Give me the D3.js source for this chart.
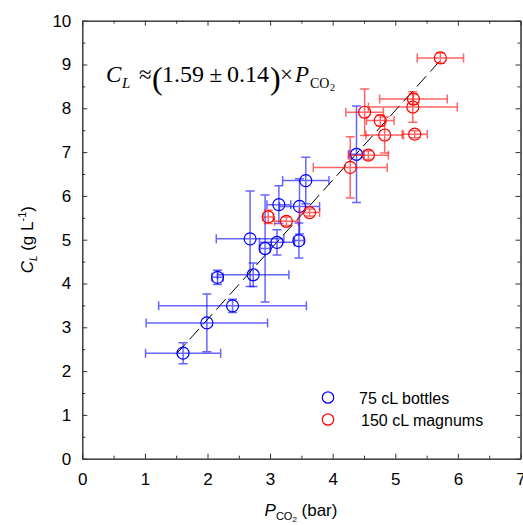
<!DOCTYPE html>
<html>
<head>
<meta charset="utf-8">
<script src="https://cdn.jsdelivr.net/npm/d3@7"></script>
<style>
  body { margin: 0; background: #fff; }
  svg { display: block; font-family: "Liberation Sans", Arial, sans-serif; }
</style>
</head>
<body>
<div id="chart"></div>
<script>
// values
const bottleX    = [1.61, 1.99, 2.40, 2.16, 2.73, 2.68, 2.92, 3.11, 3.46, 3.14, 3.47, 3.57, 4.38];
const bottleY    = [2.41, 3.10, 3.49, 4.14, 4.20, 5.02, 4.80, 4.94, 4.98, 5.80, 5.76, 6.35, 6.95];
const bottleXErr = [0.60, 0.97, 1.18, 0.09, 0.57, 0.54, 0.08, 0.28, 0.08, 0.19, 0.32, 0.37, 0.12];
const bottleYErr = [0.24, 0.66, 0.15, 0.16, 0.27, 1.09, 1.22, 0.29, 0.40, 0.43, 0.63, 0.53, 1.10];

const magnumX    = [2.97, 3.26, 3.63, 4.28, 4.57, 4.51, 4.76, 4.83, 5.29, 5.28, 5.31, 5.72];
const magnumY    = [5.52, 5.42, 5.62, 6.65, 6.93, 7.91, 7.72, 7.39, 8.21, 8.03, 7.41, 9.15];
const magnumXErr = [0.08, 0.19, 0.16, 0.59, 0.32, 0.30, 0.22, 0.30, 0.54, 0.71, 0.20, 0.37];
const magnumYErr = [0.15, 0.10, 0.08, 0.70, 0.10, 0.53, 0.12, 0.41, 0.12, 0.35, 0.08, 0.12];

const fitSlope = 1.59;
const fitRange = [1.5, 5.75];

const xTicks = [0, 1, 2, 3, 4, 5, 6, 7];
const yTicks = [0, 1, 2, 3, 4, 5, 6, 7, 8, 9, 10];
const seriesNames = ["75 cL bottles", "150 cL magnums"];
const seriesColors = ["#0000ff", "#ff0000"];

const width = 523, height = 525;
const margin = {left: 82.3, right: 2.5, top: 20.7, bottom: 66.3};

const svg = d3.select("#chart").append("svg")
    .attr("width", width)
    .attr("height", height);

const x = d3.scaleLinear().domain([0, 7]).range([margin.left, width - margin.right]);
const y = d3.scaleLinear().domain([0, 10]).range([height - margin.bottom, margin.top]);

const minorX = d3.range(0.5, 7, 1);
const minorY = d3.range(0.5, 10, 1);
const fmt = d3.format("d");

// axes: ticks point inward on all four sides
function styleAxis(g) {
    g.select(".domain").attr("stroke", "#333").attr("stroke-width", 1);
    g.selectAll(".tick line").attr("stroke", "#333");
    g.selectAll(".tick text").attr("fill", "#000").style("font-size", "17px")
        .style("font-family", "'Liberation Sans', Arial, sans-serif");
}

svg.append("g").attr("transform", `translate(0,${y(0)})`)
    .call(d3.axisBottom(x).tickValues(xTicks).tickFormat(fmt).tickSizeInner(-5).tickSizeOuter(0).tickPadding(14))
    .call(styleAxis);
svg.append("g").attr("transform", `translate(0,${y(0)})`)
    .call(d3.axisBottom(x).tickValues(minorX).tickSizeInner(-3).tickSizeOuter(0).tickFormat(""))
    .call(styleAxis);
svg.append("g").attr("transform", `translate(${x(0)},0)`)
    .call(d3.axisLeft(y).tickValues(yTicks).tickFormat(fmt).tickSizeInner(-5).tickSizeOuter(0).tickPadding(11))
    .call(styleAxis);
svg.append("g").attr("transform", `translate(${x(0)},0)`)
    .call(d3.axisLeft(y).tickValues(minorY).tickSizeInner(-3).tickSizeOuter(0).tickFormat(""))
    .call(styleAxis);
svg.append("g").attr("transform", `translate(0,${y(10)})`)
    .call(d3.axisTop(x).tickValues(xTicks).tickSizeInner(-5).tickSizeOuter(0).tickFormat(""))
    .call(styleAxis);
svg.append("g").attr("transform", `translate(0,${y(10)})`)
    .call(d3.axisTop(x).tickValues(minorX).tickSizeInner(-3).tickSizeOuter(0).tickFormat(""))
    .call(styleAxis);
svg.append("g").attr("transform", `translate(${x(7)},0)`)
    .call(d3.axisRight(y).tickValues(yTicks).tickSizeInner(-5).tickSizeOuter(0).tickFormat(""))
    .call(styleAxis);
svg.append("g").attr("transform", `translate(${x(7)},0)`)
    .call(d3.axisRight(y).tickValues(minorY).tickSizeInner(-3).tickSizeOuter(0).tickFormat(""))
    .call(styleAxis);

// fitted line
svg.append("line")
    .attr("x1", x(fitRange[0])).attr("y1", y(fitSlope * fitRange[0]))
    .attr("x2", x(fitRange[1])).attr("y2", y(fitSlope * fitRange[1]))
    .attr("stroke", "#000").attr("stroke-width", 1)
    .attr("stroke-dasharray", "14,6");

const series = [
    {xs: bottleX, ys: bottleY, xe: bottleXErr, ye: bottleYErr},
    {xs: magnumX, ys: magnumY, xe: magnumXErr, ye: magnumYErr}
];

const cap = 4.5;
series.forEach(function (s, i) {
    const pts = s.xs.map((v, j) => ({x: v, y: s.ys[j], xe: s.xe[j], ye: s.ye[j]}));
    const col = seriesColors[i];
    const g = svg.append("g");
    const bars = g.append("g")
        .attr("stroke", col).attr("stroke-opacity", 0.6).attr("stroke-width", 1.5).attr("fill", "none");
    pts.forEach(function (d) {
        const cx = x(d.x), cy = y(d.y);
        const x1 = x(d.x - d.xe), x2 = x(d.x + d.xe);
        const y1 = y(d.y + d.ye), y2 = y(d.y - d.ye);
        bars.append("path").attr("d",
            `M${x1},${cy}H${x2}M${x1},${cy - cap}V${cy + cap}M${x2},${cy - cap}V${cy + cap}` +
            `M${cx},${y1}V${y2}M${cx - cap},${y1}H${cx + cap}M${cx - cap},${y2}H${cx + cap}`);
    });
    g.selectAll("circle").data(pts).join("circle")
        .attr("cx", d => x(d.x)).attr("cy", d => y(d.y)).attr("r", 6)
        .attr("fill", "none").attr("stroke", col).attr("stroke-width", 1.2);
});

// legend
seriesNames.forEach(function (name, i) {
    const ly = 397.5 + i * 22;
    svg.append("circle").attr("cx", 328).attr("cy", ly).attr("r", 5.7)
        .attr("fill", "none").attr("stroke", seriesColors[i]).attr("stroke-width", 1.2);
    svg.append("text").attr("x", 359 + i * 2).attr("y", ly + 6)
        .style("font-size", "16px").text(name);
});

// axis titles
const xt = svg.append("text").attr("x", 301).attr("y", 516)
    .attr("text-anchor", "middle").style("font-size", "17px");
xt.append("tspan").style("font-style", "italic").text("P");
xt.append("tspan").attr("dy", 4).style("font-size", "11px").text("CO");
xt.append("tspan").attr("dy", 2).style("font-size", "8px").text("2");
xt.append("tspan").attr("dy", -6).text(" (bar)");

const yt = svg.append("text")
    .attr("transform", `translate(33,${(y(0) + y(10)) / 2}) rotate(-90)`)
    .attr("text-anchor", "middle").style("font-size", "17px");
yt.append("tspan").style("font-style", "italic").text("C");
yt.append("tspan").attr("dy", 4).style("font-size", "10px").style("font-style", "italic").text("L");
yt.append("tspan").attr("dy", -4).text(" (g L");
yt.append("tspan").attr("dy", -7).style("font-size", "11px").text("-1");
yt.append("tspan").attr("dy", 7).text(")");

// fitted relation, set in a serif face
const eq = svg.append("g").style("font-family", "'Liberation Serif', 'Times New Roman', serif");
function piece(px, py, size, txt, italic) {
    return eq.append("text").attr("x", px).attr("y", py)
        .style("font-size", size + "px").style("font-style", italic ? "italic" : "normal").text(txt);
}
piece(106, 82, 23, "C", true);
piece(122, 87.5, 15, "L", true);
piece(139, 82, 23, "\u2248", false);
piece(152, 88.5, 32, "(", false);
piece(162, 82, 24, "1.59", false);
piece(209.5, 82, 23, "\u00b1", false);
piece(227, 82, 24, "0.14", false);
piece(270, 88.5, 32, ")", false);
piece(280, 82, 23, "\u00d7", false);
piece(295, 82, 23, "P", true);
piece(310, 88, 14, "CO", false);
piece(330, 91, 10, "2", false);
</script>
</body>
</html>
